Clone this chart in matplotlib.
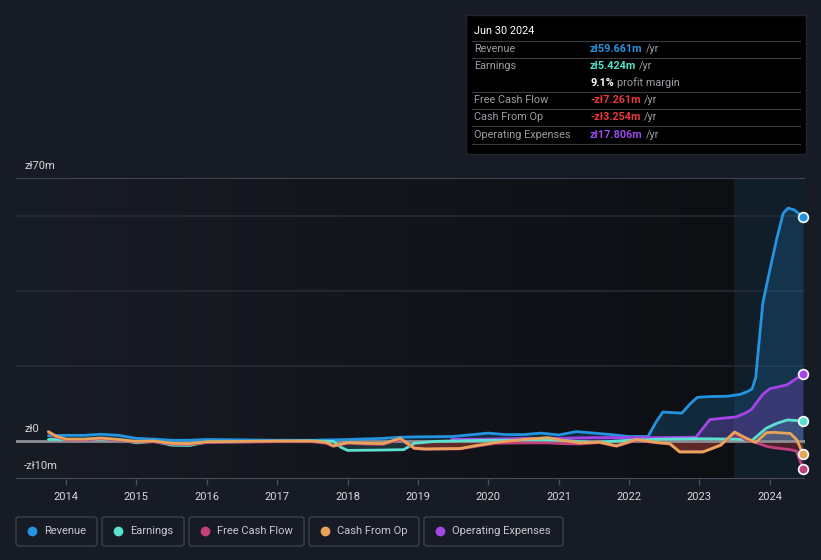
import matplotlib
matplotlib.use('Agg')
import numpy as np
import matplotlib.pyplot as plt
from matplotlib.patches import FancyBboxPatch, Rectangle
from matplotlib.lines import Line2D
from matplotlib.colors import LinearSegmentedColormap

W, H = 821, 560
FONT = ['Roboto', 'DejaVu Sans']
plt.rcParams['font.family'] = FONT

# ---------------- data (zł millions, decimal years) ----------------
rev_x = [2013.75, 2014.0, 2014.25, 2014.5, 2014.75, 2015.0, 2015.25, 2015.5, 2015.75,
         2016.0, 2016.5, 2017.0, 2017.5, 2018.0, 2018.5, 2018.75, 2019.0, 2019.5,
         2020.0, 2020.25, 2020.5, 2020.75, 2021.0, 2021.25, 2021.5, 2021.75, 2022.0,
         2022.27, 2022.38, 2022.48, 2022.75, 2022.87, 2022.97, 2023.15, 2023.4, 2023.58,
         2023.68, 2023.75, 2023.8, 2023.9, 2024.0, 2024.1, 2024.19, 2024.26, 2024.35, 2024.47]
rev_y = [1.5, 1.6, 1.6, 1.9, 1.6, 0.8, 0.6, 0.3, 0.3,
         0.5, 0.4, 0.3, 0.3, 0.5, 0.8, 1.1, 1.2, 1.3,
         2.2, 1.8, 1.8, 2.2, 1.7, 2.6, 2.2, 1.8, 1.3,
         1.3, 5.0, 7.8, 7.5, 10.0, 11.7, 11.9, 12.0, 12.5,
         13.2, 14.0, 17.0, 36.7, 45.5, 54.0, 60.6, 62.0, 61.5, 59.661]

earn_x = [2013.75, 2014.0, 2014.5, 2014.75, 2015.0, 2015.25, 2015.5, 2015.75, 2016.0,
          2016.5, 2017.0, 2017.5, 2017.8, 2017.9, 2018.0, 2018.5, 2018.8, 2018.95,
          2019.25, 2020.0, 2021.0, 2021.5, 2022.0, 2022.5, 2023.0, 2023.5, 2023.75,
          2023.95, 2024.1, 2024.25, 2024.47]
earn_y = [0.5, 0.5, 0.5, 0.4, -0.4, 0.0, -1.0, -1.1, -0.2,
          -0.1, 0.0, 0.1, 0.0, -1.5, -2.4, -2.3, -2.2, -0.5,
          0.0, 0.3, 0.3, -0.3, 0.3, 0.6, 0.7, 0.6, 0.3,
          3.5, 4.8, 5.7, 5.424]

cf_x = [2013.75, 2013.85, 2014.0, 2014.25, 2014.5, 2014.75, 2015.0, 2015.25, 2015.5,
        2015.75, 2016.0, 2016.5, 2017.0, 2017.5, 2017.7, 2017.8, 2018.0, 2018.25,
        2018.5, 2018.75, 2018.95, 2019.1, 2019.6, 2019.8, 2020.1, 2020.55, 2020.85,
        2021.05, 2021.3, 2021.58, 2021.82, 2022.1, 2022.4, 2022.58, 2022.72, 2023.05,
        2023.3, 2023.5, 2023.65, 2023.8, 2023.95, 2024.06, 2024.29, 2024.38, 2024.47]
cfo_y = [2.6, 1.5, 0.6, 0.6, 0.9, 0.5, 0.0, 0.1, -0.5,
         -0.6, -0.1, 0.0, 0.1, 0.1, -0.3, -1.2, -0.3, -0.5,
         -0.6, 0.8, -1.8, -2.0, -1.9, -1.2, -0.3, 0.6, 1.0,
         0.3, -0.4, -0.2, -1.2, 0.5, -0.3, -0.6, -2.8, -2.8,
         -1.0, 2.5, 1.0, -0.3, 2.3, 2.4, 2.1, 0.5, -3.254]
fcf_y = [2.4, 1.3, 0.4, 0.4, 0.7, 0.3, -0.2, -0.1, -0.7,
         -0.8, -0.3, -0.2, -0.1, -0.1, -0.5, -1.3, -0.5, -0.7,
         -0.8, 0.5, -1.9, -2.1, -2.0, -1.4, -0.5, -0.4, -0.4,
         -0.6, -0.7, -0.3, -1.3, 0.3, -0.4, -0.7, -2.8, -2.8,
         -1.1, 2.3, 0.5, -0.3, -1.3, -1.7, -2.2, -2.6, -7.261]

opex_x = [2019.48, 2020.0, 2020.5, 2021.0, 2021.5, 2022.0, 2022.5, 2022.95, 2023.05,
          2023.15, 2023.3, 2023.52, 2023.65, 2023.74, 2023.9, 2024.0, 2024.24, 2024.47]
opex_y = [0.5, 0.6, 0.8, 0.8, 1.0, 1.0, 1.0, 1.1, 3.5,
          5.8, 6.1, 6.5, 7.5, 8.5, 12.5, 14.0, 15.0, 17.806]

year_ticks = list(range(2014, 2025))
legend_names = ['Revenue', 'Earnings', 'Free Cash Flow', 'Cash From Op', 'Operating Expenses']

C_REV = '#2394df'
C_EARN = '#5ce0cf'
C_FCF = '#c2417c'
C_CFO = '#e8a55a'
C_OPEX = '#a445e8'

BG = '#161b25'

def fx(x):
    return x / W

def fy(y):
    return 1 - y / H

fig = plt.figure(figsize=(W / 100, H / 100), dpi=100, facecolor=BG)

# axes placement: x 16..805 px, y 178..479 px
ax = fig.add_axes([fx(16), fy(479), fx(805) - fx(16), (479 - 178) / H])
ax.set_facecolor(BG)
X0, X1 = 2013.29, 2024.5
Y0, Y1 = -10, 70
ax.set_xlim(X0, X1)
ax.set_ylim(Y0, Y1)
for s in ax.spines.values():
    s.set_visible(False)

# background gradient up to the highlight zone
HL = 2023.49
cmap = LinearSegmentedColormap.from_list('bg', ['#181c25', '#0d0f13'])
grad = np.linspace(0, 1, 256).reshape(1, -1)
ax.imshow(grad, extent=[X0, HL, Y0, Y1], aspect='auto', cmap=cmap, zorder=0,
          interpolation='bicubic')
ax.axvspan(HL, X1, color='#111d29', zorder=0.5, lw=0)

# gridlines
for g in [20, 40, 60]:
    ax.axhline(g, color='#262b34', lw=1.2, zorder=1)
ax.axhline(70, color='#4a4e57', lw=1.2, zorder=1)
ax.axhline(-10, color='#4a4e57', lw=1.5, zorder=1)

# fills
ax.fill_between(rev_x, rev_y, 0, color=C_REV, alpha=0.2, lw=0, zorder=2)
ax.fill_between(opex_x, opex_y, 0, color=C_OPEX, alpha=0.25, lw=0, zorder=2)
ax.fill_between(earn_x, earn_y, 0, color=C_EARN, alpha=0.15, lw=0, zorder=2)
ax.fill_between(cf_x, fcf_y, 0, color='#c0283a', alpha=0.35, lw=0, zorder=2)
ax.fill_between(cf_x, cfo_y, 0, color=C_CFO, alpha=0.12, lw=0, zorder=2)

# zero line
ax.axhline(0, color='#8d8f94', lw=2, zorder=3)

lw = 2.0
kw = dict(lw=lw, solid_joinstyle='round', solid_capstyle='round')
ax.plot(rev_x, rev_y, color=C_REV, zorder=5, **kw)
ax.plot(opex_x, opex_y, color=C_OPEX, zorder=5, **kw)
ax.plot(earn_x, earn_y, color=C_EARN, zorder=5, **kw)
ax.plot(cf_x, fcf_y, color=C_FCF, zorder=5, **kw)
ax.plot(cf_x, cfo_y, color=C_CFO, zorder=6, **kw)

# end markers
for xs, ys, c in [(rev_x, rev_y, C_REV), (opex_x, opex_y, C_OPEX), (earn_x, earn_y, C_EARN),
                  (cf_x, cfo_y, C_CFO), (cf_x, fcf_y, C_FCF)]:
    ax.plot([xs[-1]], [ys[-1]], 'o', ms=7, mfc=c, mec='white', mew=1.2, zorder=8, clip_on=False)

# x ticks
ax.set_yticks([])
ax.set_xticks(year_ticks)
ax.set_xticklabels([str(y) for y in year_ticks])
ax.tick_params(axis='x', colors='#4a4e57', length=4, width=1, pad=5, labelsize=8, labelcolor='#d8d8d8')

# y labels
for txt, ypx in [('zł70m', 166), ('zł0', 429), ('-zł10m', 466)]:
    fig.text(fx(24), fy(ypx), txt, color='#d8d8d8', fontsize=8, ha='left', va='center')

# ---------------- tooltip ----------------
fig.patches.append(Rectangle((fx(466), fy(154)), fx(806) - fx(466), (154 - 15) / H,
                             transform=fig.transFigure, facecolor='#000000',
                             edgecolor='#23262d', lw=1, zorder=1))
TS = 7.8
fig.text(fx(474), fy(31), 'Jun 30 2024', color='white', fontsize=TS, ha='left', va='center')
for ysep in [41, 58, 92, 109, 126, 144]:
    fig.add_artist(Line2D([fx(472), fx(800)], [fy(ysep), fy(ysep)], color='#3a3c42', lw=0.8,
                          transform=fig.transFigure))

rows = [('Revenue', 'zł59.661m', C_REV, 49),
        ('Earnings', 'zł5.424m', '#4fe3cb', 66),
        ('Free Cash Flow', '-zł7.261m', '#e8383e', 100),
        ('Cash From Op', '-zł3.254m', '#e8383e', 117),
        ('Operating Expenses', 'zł17.806m', '#9b49ec', 135)]
renderer = fig.canvas.get_renderer()
for label, val, col, ypx in rows:
    fig.text(fx(474), fy(ypx), label, color='#9a9da3', fontsize=TS, ha='left', va='center')
    t = fig.text(fx(590), fy(ypx), val, color=col, fontsize=TS, fontweight='bold', ha='left', va='center')
    bb = t.get_window_extent(renderer)
    fig.text((bb.x1 + 3) / W, fy(ypx), '/yr', color='#9a9da3', fontsize=TS, ha='left', va='center')

t = fig.text(fx(590), fy(83), '9.1%', color='white', fontsize=TS, fontweight='bold', ha='left', va='center')
bb = t.get_window_extent(renderer)
fig.text((bb.x1 + 3) / W, fy(83), 'profit margin', color='#9a9da3', fontsize=TS, ha='left', va='center')

# ---------------- legend ----------------
boxes = [(16, 97), (102, 184), (189, 304), (309, 419), (424, 563)]
colors = [C_REV, C_EARN, C_FCF, C_CFO, C_OPEX]
for (x0, x1), name, c in zip(boxes, legend_names, colors):
    fig.patches.append(FancyBboxPatch((fx(x0), fy(546)), fx(x1) - fx(x0), (546 - 517) / H,
                                      boxstyle='round,pad=0,rounding_size=0.004',
                                      transform=fig.transFigure, facecolor='none',
                                      edgecolor='#3b404a', lw=1))
    fig.add_artist(Line2D([fx(x0 + 16)], [fy(531)], marker='o', ms=6, mfc=c, mec=c,
                          transform=fig.transFigure))
    fig.text(fx(x0 + 28), fy(531), name, color='#c8cacf', fontsize=8, ha='left', va='center')

fig.savefig('out.png', dpi=100, facecolor=BG)
